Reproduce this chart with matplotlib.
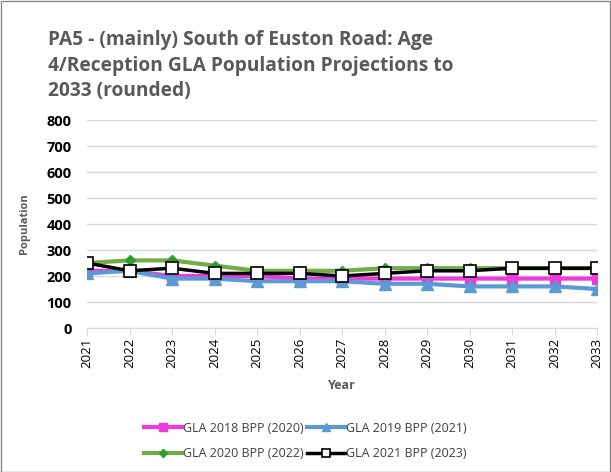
import numpy as np
import matplotlib.pyplot as plt

years = [2021, 2022, 2023, 2024, 2025, 2026, 2027, 2028, 2029, 2030, 2031, 2032, 2033]
gla2018 = [220, 220, 200, 200, 200, 190, 190, 190, 190, 190, 190, 190, 190]
gla2019 = [210, 220, 190, 190, 180, 180, 180, 170, 170, 160, 160, 160, 150]
gla2020 = [250, 260, 260, 240, 220, 220, 220, 230, 230, 230, 230, 230, 230]
gla2021 = [250, 220, 230, 210, 210, 210, 200, 210, 220, 220, 230, 230, 230]

plt.rcParams['font.family'] = ['Open Sans', 'DejaVu Sans']

fig = plt.figure(figsize=(6.11, 4.72), dpi=100)
ax = fig.add_axes([87 / 611, 1 - 328 / 472, (597 - 87) / 611, (328 - 120) / 472])

l1, = ax.plot(years, gla2018, color='#EE3ADA', lw=3, marker='s', ms=7,
              label='GLA 2018 BPP (2020)', zorder=3)
l2, = ax.plot(years, gla2019, color='#5B9BD5', lw=3, marker='^', ms=8,
              label='GLA 2019 BPP (2021)', zorder=3)
l3, = ax.plot(years, gla2020, color='#70AD47', lw=3, marker='D', ms=5,
              mfc='#2CA02C', mec='#2CA02C', label='GLA 2020 BPP (2022)', zorder=4)
l4, = ax.plot(years, gla2021, color='black', lw=2.5, marker='s', ms=8,
              mfc='white', mec='black', mew=1.2, label='GLA 2021 BPP (2023)', zorder=5)

ax.set_xlim(2021, 2033)
ax.set_ylim(0, 800)
ax.set_yticks(range(0, 801, 100))
ax.set_xticks(years)
ax.set_xticklabels([str(y) for y in years], rotation=90, fontsize=9.5)
for lab in ax.get_yticklabels():
    lab.set_fontweight('bold')
    lab.set_fontsize(10.5)
ax.tick_params(axis='y', length=0, pad=11)
ax.tick_params(axis='x', length=5, color='#D9D9D9', pad=2)
ax.grid(axis='y', color='#D9D9D9', lw=1)
ax.set_axisbelow(True)
for s in ['top', 'right', 'left']:
    ax.spines[s].set_visible(False)
ax.spines['bottom'].set_color('#D9D9D9')

ax.set_xlabel('Year', fontsize=9, fontweight='bold', color='#595959', labelpad=8)
ax.set_ylabel('Population', fontsize=8, fontweight='bold', color='#595959')
ax.yaxis.set_label_coords(-0.112, 0.5)

fig.text(48 / 611, 1 - 30 / 472,
         'PA5 - (mainly) South of Euston Road: Age\n4/Reception GLA Population Projections to\n2033 (rounded)',
         fontsize=13.8, fontweight='bold', color='#595959', va='top', ha='left',
         linespacing=1.38)

# row-wise order: 2018, 2019 / 2020, 2021
leg = fig.legend([l1, l3, l2, l4], [l.get_label() for l in [l1, l3, l2, l4]],
                 loc='center', bbox_to_anchor=(0.5, 1 - 441 / 472), ncol=2, frameon=False,
                 fontsize=9, labelcolor='#404040', handlelength=3.0, handletextpad=0.1,
                 columnspacing=0.3, labelspacing=1.0, markerscale=0.8)

fig.add_artist(plt.Rectangle((0.001, 0.001), 0.997, 0.997, transform=fig.transFigure,
                             fill=False, ec='#888888', lw=1))

fig.savefig('out.png', dpi=100)
